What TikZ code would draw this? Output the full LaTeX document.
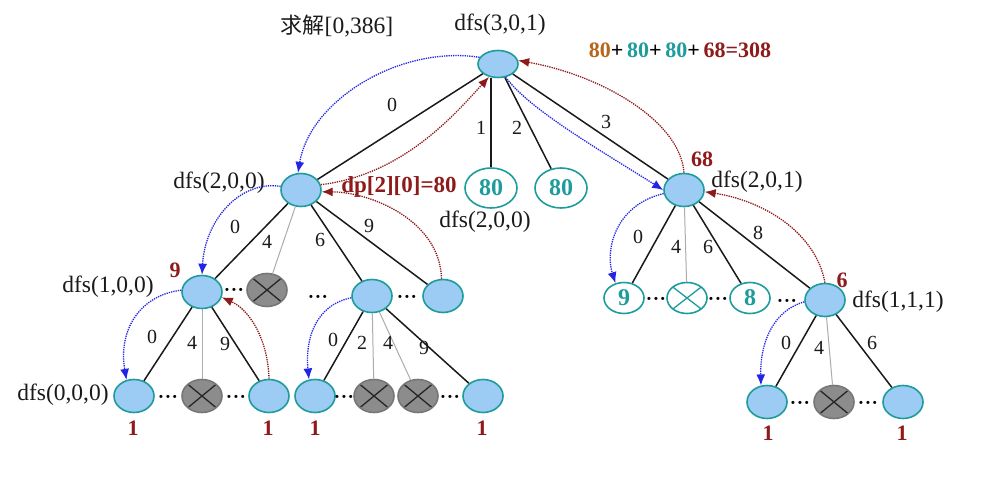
\documentclass[tikz,border=0pt]{standalone}
\usepackage{fontspec}
\newfontfamily\cjk{Noto Sans CJK SC}
\newfontfamily\lblrm{Liberation Serif}
\usetikzlibrary{shapes.geometric,arrows.meta}

\definecolor{nodeblue}{HTML}{9CCBF3}
\definecolor{tealc}{HTML}{1E9C9C}
\definecolor{darkred}{HTML}{8E1B1B}
\definecolor{brownc}{HTML}{B8651B}
\definecolor{crossgray}{HTML}{8C8C8C}
\definecolor{dotblue}{HTML}{2424E6}
\definecolor{inkc}{HTML}{1A1A1A}

\newcommand\dfsfont{\lblrm\fontsize{23.5}{26}\selectfont}
\newcommand\edgefont{\lblrm\fontsize{20}{22}\selectfont}
\newcommand\rednumfont{\lblrm\bfseries\fontsize{22}{24}\selectfont}
\newcommand\valfont{\lblrm\bfseries\fontsize{24}{26}\selectfont}

\tikzset{
  tn/.style={ellipse, draw=tealc, line width=1.6pt, fill=nodeblue,
             minimum width=40pt, minimum height=33pt, inner sep=0pt},
  crossed/.style={path picture={\draw[line width=1.3pt, #1]
      (path picture bounding box.north west) -- (path picture bounding box.south east)
      (path picture bounding box.north east) -- (path picture bounding box.south west);}},
  xn/.style={tn, fill=crossgray, draw=crossgray!85!black, crossed=black!85},
  vn/.style={tn, fill=white, text=tealc, font=\valfont},
  vxn/.style={tn, fill=white, crossed=tealc},
  tree/.style={line width=1.5pt, inkc},
  cut/.style={line width=1pt, gray!65},
  lbl/.style={text=inkc, font=\dfsfont, inner sep=0pt},
  elbl/.style={text=inkc, font=\edgefont, inner sep=0pt},
  rnum/.style={text=darkred, font=\rednumfont, inner sep=0pt},
  dots/.style={text=black, font=\bfseries\fontsize{22}{22}\selectfont, inner sep=0pt},
  godown/.style={dotblue, densely dotted, line width=1.3pt,
                 -{Latex[length=11pt,width=9pt]}},
  goup/.style={darkred, densely dotted, line width=1.3pt,
               -{Latex[length=11pt,width=9pt]}},
}

\begin{document}
\begin{tikzpicture}[x=1pt,y=-1pt]
\useasboundingbox[fill=white] (0,0) rectangle (995,481);

% ---- tree nodes ----
\node[tn, minimum height=27pt] (root) at (498,64) {};
\node[tn] (A) at (301,190) {};
\node[vn, minimum width=52pt, minimum height=40pt] (v1) at (491,188) {80};
\node[vn, minimum width=52pt, minimum height=40pt] (v2) at (561,188) {80};
\node[tn] (B) at (684,190) {};

\node[tn] (C) at (202,292) {};
\node[xn] (X1) at (267,290) {};
\node[tn] (D) at (372,296) {};
\node[tn] (E) at (443,296) {};

\node[vn, minimum height=31pt] (n9) at (624,298) {9};
\node[vxn, minimum height=31pt] (X2) at (687,298) {};
\node[vn, minimum height=31pt] (n8) at (750,298) {8};
\node[tn] (F) at (825,300) {};

\node[tn] (C1) at (134,396) {};
\node[xn] (C2) at (202,396) {};
\node[tn] (C3) at (269,396) {};
\node[tn] (D1) at (315,396) {};
\node[xn] (D2) at (374,396) {};
\node[xn] (D3) at (418,396) {};
\node[tn] (D4) at (483,396) {};

\node[tn] (F1) at (767,402) {};
\node[xn] (F2) at (834,402) {};
\node[tn] (F3) at (903,402) {};

% ---- tree edges ----
\draw[tree] (root) -- (A);
\draw[tree] (v1.north) -- (v1.north |- root.south);
\draw[tree] (root) -- (v2);
\draw[tree] (root) -- (B);

\draw[tree] (A) -- (C);
\draw[cut]  (A) -- (X1);
\draw[tree] (A) -- (D);
\draw[tree] (A) -- (E);

\draw[tree] (B) -- (n9);
\draw[cut]  (B) -- (X2);
\draw[tree] (B) -- (n8);
\draw[tree] (B) -- (F);

\draw[tree] (C) -- (C1);
\draw[cut]  (C) -- (C2);
\draw[tree] (C) -- (C3);

\draw[tree] (D) -- (D1);
\draw[cut]  (D) -- (D2);
\draw[cut]  (D) -- (D3);
\draw[tree] (D) -- (D4);

\draw[tree] (F) -- (F1);
\draw[cut]  (F) -- (F2);
\draw[tree] (F) -- (F3);

% ---- edge weights ----
\node[elbl] (w00) at (392,105) {0};
\node[elbl] (w01) at (481,128) {1};
\node[elbl] (w02) at (517,128) {2};
\node[elbl] (w03) at (606,122) {3};

\node[elbl] (wA0) at (235,227) {0};
\node[elbl] (wA4) at (267,242) {4};
\node[elbl] (wA6) at (320,240) {6};
\node[elbl] (wA9) at (369,226) {9};

\node[elbl] (wB0) at (638,237) {0};
\node[elbl] (wB4) at (676,247) {4};
\node[elbl] (wB6) at (708,247) {6};
\node[elbl] (wB8) at (758,233) {8};

\node[elbl] (wC0) at (152,337) {0};
\node[elbl] (wC4) at (192,343) {4};
\node[elbl] (wC9) at (225,344) {9};

\node[elbl] (wD0) at (333,340) {0};
\node[elbl] (wD2) at (362,343) {2};
\node[elbl] (wD4) at (388,343) {4};
\node[elbl] (wD9) at (424,348) {9};

\node[elbl] (wF0) at (786,343) {0};
\node[elbl] (wF4) at (819,348) {4};
\node[elbl] (wF6) at (872,343) {6};

% ---- state labels ----
\node[lbl] (task) at (337,26) {{\cjk\fontsize{22}{24}\selectfont 求解}[0,386]};
\node[lbl] (sroot) at (500,25) {dfs(3,0,1)};
\node[lbl] (sA) at (219,183) {dfs(2,0,0)};
\node[lbl] (sv1) at (485,222) {dfs(2,0,0)};
\node[lbl] (sB) at (757,182) {dfs(2,0,1)};
\node[lbl] (sC) at (108,287) {dfs(1,0,0)};
\node[lbl] (sF) at (898,302) {dfs(1,1,1)};
\node[lbl] (sC1) at (63,395) {dfs(0,0,0)};

% ---- returned values ----
\node[inner sep=0pt, font=\lblrm\bfseries\fontsize{22}{24}\selectfont] (sum) at (680,50)
  {\textcolor{brownc}{80}+\,\textcolor{tealc}{80}+\,\textcolor{tealc}{80}+\,\textcolor{darkred}{68=308}};
\node[inner sep=0pt, text=darkred, font=\lblrm\bfseries\fontsize{23}{25}\selectfont] (dpA) at (399,187) {dp[2][0]=80};
\node[rnum] (rB) at (702,159) {68};
\node[rnum] (rF) at (842,280) {6};
\node[rnum] (rC) at (175,270) {9};
\node[rnum] (r1) at (133,428) {1};
\node[rnum] (r2) at (268,428) {1};
\node[rnum] (r3) at (315,428) {1};
\node[rnum] (r4) at (482,428) {1};
\node[rnum] (r5) at (768,433) {1};
\node[rnum] (r6) at (902,433) {1};

% ---- omitted siblings ----
\node[dots] (d1) at (234,290) {...};
\node[dots] (d2) at (318,297) {...};
\node[dots] (d3) at (407,297) {...};
\node[dots] (d4) at (168,397) {...};
\node[dots] (d5) at (236,397) {...};
\node[dots] (d6) at (344,397) {...};
\node[dots] (d7) at (450,397) {...};
\node[dots] (d8) at (656,299) {...};
\node[dots] (d9) at (718,299) {...};
\node[dots] (d10) at (787,301) {...};
\node[dots] (d11) at (800,403) {...};
\node[dots] (d12) at (868,403) {...};

% ---- descending calls ----
\draw[godown] (root.160) .. controls (400,45) and (310,100) .. (A.100);
\draw[godown] (A.170) .. controls (240,180) and (205,220) .. (C.north);
\draw[godown] (C.175) .. controls (140,295) and (118,330) .. (C1.115);
\draw[godown] (D.185) .. controls (315,305) and (305,340) .. (D1.110);
\draw[godown] (root.-60) .. controls (530,110) and (600,150) .. (B.180);
\draw[godown] (B.190) .. controls (615,205) and (605,250) .. (n9.120);
\draw[godown] (F.185) .. controls (775,310) and (760,340) .. (F1.110);

% ---- returning values ----
\draw[goup] (A.15) .. controls (400,175) and (450,120) .. (root.235);
\draw[goup] (E.95) .. controls (440,220) and (370,192) .. (A.-5);
\draw[goup] (C3.north) .. controls (268,340) and (250,310) .. (C.-15);
\draw[goup] (B.north) .. controls (680,120) and (600,75) .. (root.10);
\draw[goup] (F.north) .. controls (815,230) and (760,200) .. (B.-5);
\end{tikzpicture}
\end{document}
